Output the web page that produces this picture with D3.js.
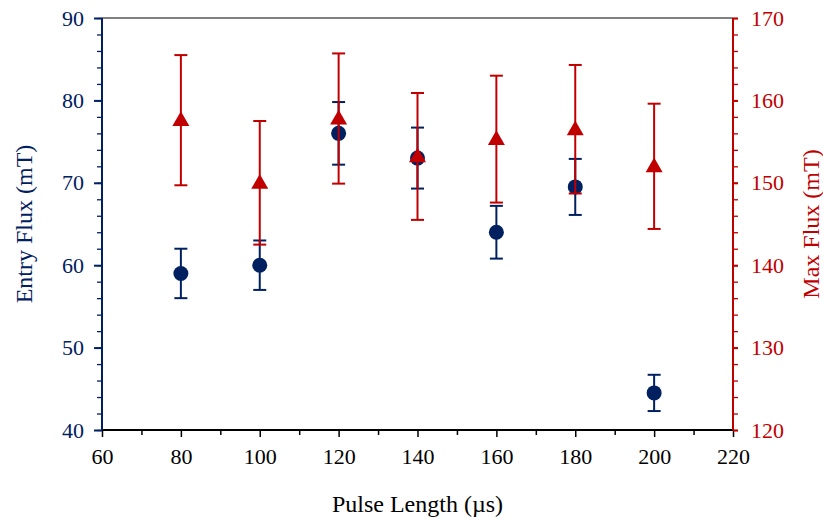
<!DOCTYPE html>
<html>
<head>
<meta charset="utf-8">
<script src="https://cdn.jsdelivr.net/npm/d3@7"></script>
<style>
  body { margin: 0; background: #fff; }
  text { font-family: "Liberation Serif", "Times New Roman", serif; }
</style>
</head>
<body>
<div id="chart"></div>
<script>
// pulse length (µs)
var pulseLength = [80, 100, 120, 140, 160, 180, 200];
// entry flux (mT) and its error
var entryFlux    = [59, 60, 76, 73, 64, 69.5, 44.5];
var entryFluxErr = [3, 3, 3.8, 3.7, 3.2, 3.4, 2.2];
// max flux (mT) and its error
var maxFlux    = [157.6, 150, 157.8, 153.2, 155.3, 156.5, 152];
var maxFluxErr = [7.9, 7.5, 7.9, 7.7, 7.7, 7.8, 7.6];

var xTicks = [60, 80, 100, 120, 140, 160, 180, 200, 220];
var leftTicks = [40, 50, 60, 70, 80, 90];
var rightTicks = [120, 130, 140, 150, 160, 170];

var blue = "#002060", red = "#c00000";

var margin = {top: 18, right: 90, bottom: 93, left: 102},
    width = 823 - margin.left - margin.right,
    height = 523 - margin.top - margin.bottom;

var svg = d3.select("#chart").append("svg")
    .attr("width", 823)
    .attr("height", 523)
    .append("g")
    .attr("transform", "translate(" + margin.left + "," + margin.top + ")");

var x = d3.scaleLinear().domain([60, 220]).range([0, width]);
var yL = d3.scaleLinear().domain([40, 90]).range([height, 0]);
var yR = d3.scaleLinear().domain([120, 170]).range([height, 0]);

// top frame line
svg.append("line")
    .attr("x1", 0).attr("x2", width)
    .attr("y1", 0).attr("y2", 0)
    .attr("stroke", "#808080").attr("stroke-width", 2);

// minor ticks
var minorX = d3.range(70, 220, 20);
var minorL = d3.range(40, 91, 2);
var minorR = d3.range(120, 171, 2);

var xAxis = svg.append("g")
    .attr("transform", "translate(0," + height + ")")
    .call(d3.axisBottom(x).tickValues(minorX).tickSize(5).tickFormat(""));
xAxis.select(".domain").remove();
svg.append("g")
    .attr("transform", "translate(0," + height + ")")
    .call(d3.axisBottom(x).tickValues(xTicks).tickSize(7).tickPadding(11).tickFormat(d3.format("d")))
    .call(g => g.selectAll("text").style("font-size", "22px").attr("fill", "#000"))
    .call(g => g.select(".domain").attr("stroke-width", 2).attr("d", "M0,0H" + width));
svg.selectAll("g.tick line").attr("stroke-width", 1.5);

var lMinor = svg.append("g")
    .call(d3.axisLeft(yL).tickValues(minorL).tickSize(5).tickFormat(""));
lMinor.select(".domain").remove();
lMinor.selectAll("line").attr("stroke", blue).attr("stroke-width", 1.3);
svg.append("g")
    .call(d3.axisLeft(yL).tickValues(leftTicks).tickSize(8).tickPadding(10))
    .call(g => g.selectAll("line").attr("stroke", blue).attr("stroke-width", 2))
    .call(g => g.selectAll("text").style("font-size", "22px").attr("fill", blue))
    .call(g => g.select(".domain").attr("stroke", blue).attr("stroke-width", 2).attr("d", "M0," + height + "V0"));

var rMinor = svg.append("g")
    .attr("transform", "translate(" + width + ",0)")
    .call(d3.axisRight(yR).tickValues(minorR).tickSize(5).tickFormat(""));
rMinor.select(".domain").remove();
rMinor.selectAll("line").attr("stroke", red).attr("stroke-width", 1.3);
svg.append("g")
    .attr("transform", "translate(" + width + ",0)")
    .call(d3.axisRight(yR).tickValues(rightTicks).tickSize(5).tickPadding(13))
    .call(g => g.selectAll("line").attr("stroke", red).attr("stroke-width", 2))
    .call(g => g.selectAll("text").style("font-size", "22px").attr("fill", red))
    .call(g => g.select(".domain").attr("stroke", red).attr("stroke-width", 2).attr("d", "M0," + height + "V0"));

// axis titles
svg.append("text")
    .attr("transform", "translate(" + (width / 2) + "," + (height + 82) + ")")
    .style("text-anchor", "middle")
    .style("font-size", "24px")
    .text("Pulse Length (\u00b5s)");

svg.append("text")
    .attr("transform", "translate(" + (-70) + "," + (height / 2) + ") rotate(-90)")
    .style("text-anchor", "middle")
    .style("font-size", "24px")
    .attr("fill", blue)
    .text("Entry Flux (mT)");

svg.append("text")
    .attr("transform", "translate(" + (width + 86) + "," + (height / 2) + ") rotate(-90)")
    .style("text-anchor", "middle")
    .style("font-size", "24px")
    .attr("fill", red)
    .text("Max Flux (mT)");

var entry = pulseLength.map((p, i) => ({x: p, y: entryFlux[i], e: entryFluxErr[i]}));
var maxd = pulseLength.map((p, i) => ({x: p, y: maxFlux[i], e: maxFluxErr[i]}));

function errorBars(data, y, color) {
    var g = svg.append("g").attr("stroke", color).attr("stroke-width", 2);
    g.selectAll(".v").data(data).enter().append("line")
        .attr("x1", d => x(d.x)).attr("x2", d => x(d.x))
        .attr("y1", d => y(d.y - d.e)).attr("y2", d => y(d.y + d.e));
    g.selectAll(".t").data(data).enter().append("line")
        .attr("x1", d => x(d.x) - 6.5).attr("x2", d => x(d.x) + 6.5)
        .attr("y1", d => y(d.y + d.e)).attr("y2", d => y(d.y + d.e));
    g.selectAll(".b").data(data).enter().append("line")
        .attr("x1", d => x(d.x) - 6.5).attr("x2", d => x(d.x) + 6.5)
        .attr("y1", d => y(d.y - d.e)).attr("y2", d => y(d.y - d.e));
}

errorBars(entry, yL, blue);
svg.selectAll(".dot").data(entry).enter().append("circle")
    .attr("cx", d => x(d.x))
    .attr("cy", d => yL(d.y))
    .attr("r", 7.5)
    .attr("fill", blue);

errorBars(maxd, yR, red);
svg.selectAll(".tri").data(maxd).enter().append("path")
    .attr("d", d3.symbol().type(d3.symbolTriangle).size(125))
    .attr("transform", d => "translate(" + x(d.x) + "," + (yR(d.y) + 1) + ")")
    .attr("fill", red);
</script>
</body>
</html>
